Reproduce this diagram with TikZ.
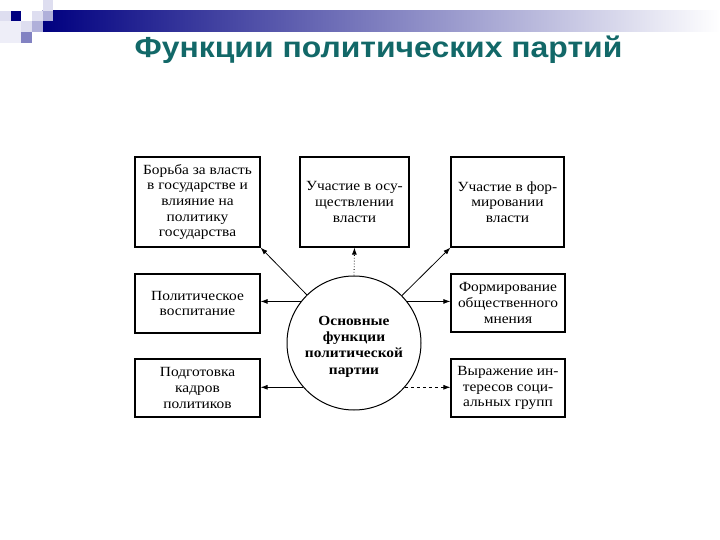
\documentclass[tikz,border=0pt]{standalone}
\usepackage{fontspec}
\setmainfont{Liberation Serif}[FakeStretch=1.1]
\newfontfamily\titlefont{Liberation Sans}[FakeStretch=1.1]
\usetikzlibrary{arrows.meta}
\definecolor{navyb}{RGB}{0,0,128}
\definecolor{titleteal}{RGB}{18,104,104}
\definecolor{lav1}{RGB}{222,222,240}
\definecolor{lav2}{RGB}{176,176,218}
\definecolor{lav3}{RGB}{130,130,194}
\begin{document}
\begin{tikzpicture}[x=1pt,y=-1pt,
  box/.style={draw, line width=1.2pt, inner sep=0pt, align=center,
    font=\fontsize{14}{15.7}\selectfont},
  lbl/.style={align=center, inner sep=0pt, font=\bfseries\fontsize{14}{16.3}\selectfont},
  conn/.style={line width=0.8pt, -{Latex[length=7pt,width=5pt]}}]
\useasboundingbox (0,0) rectangle (720,540);
\fill[white] (0,0) rectangle (720,540);
% header decoration
\shade[left color=navyb, right color=white] (42.7,10.7) rectangle (720,32);
\fill[lav1] (0,10.7) rectangle (10.7,21.3);
\fill[navyb] (10.7,10.7) rectangle (21.3,21.3);
\fill[white] (21.3,10.7) rectangle (32,21.3);
\fill[lav1] (32,10.7) rectangle (42.7,21.3);
\fill[lav1] (42.7,0) rectangle (53.3,10.7);
\fill[lav2] (42.7,10.7) rectangle (53.3,21.3);
\fill[lav1!50] (0,21.3) rectangle (21.3,42.7);
\fill[lav1] (21.3,21.3) rectangle (32,32);
\fill[lav2] (32,21.3) rectangle (42.7,32);
\fill[lav3] (21.3,32) rectangle (32,42.7);
% title
\node[font=\titlefont\bfseries\fontsize{29}{31}\selectfont, text=titleteal, anchor=base, inner sep=0pt]
  (title) at (378.5,58) {Функции политических партий};
% boxes
\node[box, minimum width=125pt, minimum height=90pt] (tl) at (197.5,202)
  {Борьба за власть\\в государстве и\\влияние на\\политику\\государства};
\node[box, minimum width=109pt, minimum height=90pt] (tm) at (354.5,202)
  {Участие в осу-\\ществлении\\власти};
\node[box, minimum width=113pt, minimum height=90pt] (tr) at (507.5,202)
  {Участие в фор-\\мировании\\власти};
\node[box, minimum width=125pt, minimum height=59pt] (ml) at (197.5,303.5)
  {Политическое\\воспитание};
\node[box, minimum width=114pt, minimum height=58pt] (mr) at (508,303)
  {Формирование\\общественного\\мнения};
\node[box, minimum width=125pt, minimum height=58pt] (bl) at (197.5,388)
  {Подготовка\\кадров\\политиков};
\node[box, minimum width=114pt, minimum height=58pt] (br) at (508,388)
  {Выражение ин-\\тересов соци-\\альных групп};
% circle
\node[draw, circle, line width=1pt, minimum size=134pt, inner sep=0pt] (c) at (354,343) {};
\node[lbl] (ct) at (354,346.5) {Основные\\функции\\политической\\партии};
% connectors
\draw[conn] (c) -- (tl.south east);
\draw[conn, dotted] (c.north) -- (tm.south);
\draw[conn] (c) -- (tr.south west);
\draw[conn] (c.142) -- (c.142 -| ml.east);
\draw[conn] (c.38) -- (c.38 -| mr.west);
\draw[conn] (c.221) -- (c.221 -| bl.east);
\draw[conn, dashed] (c.-41) -- (c.-41 -| br.west);
\end{tikzpicture}
\end{document}
